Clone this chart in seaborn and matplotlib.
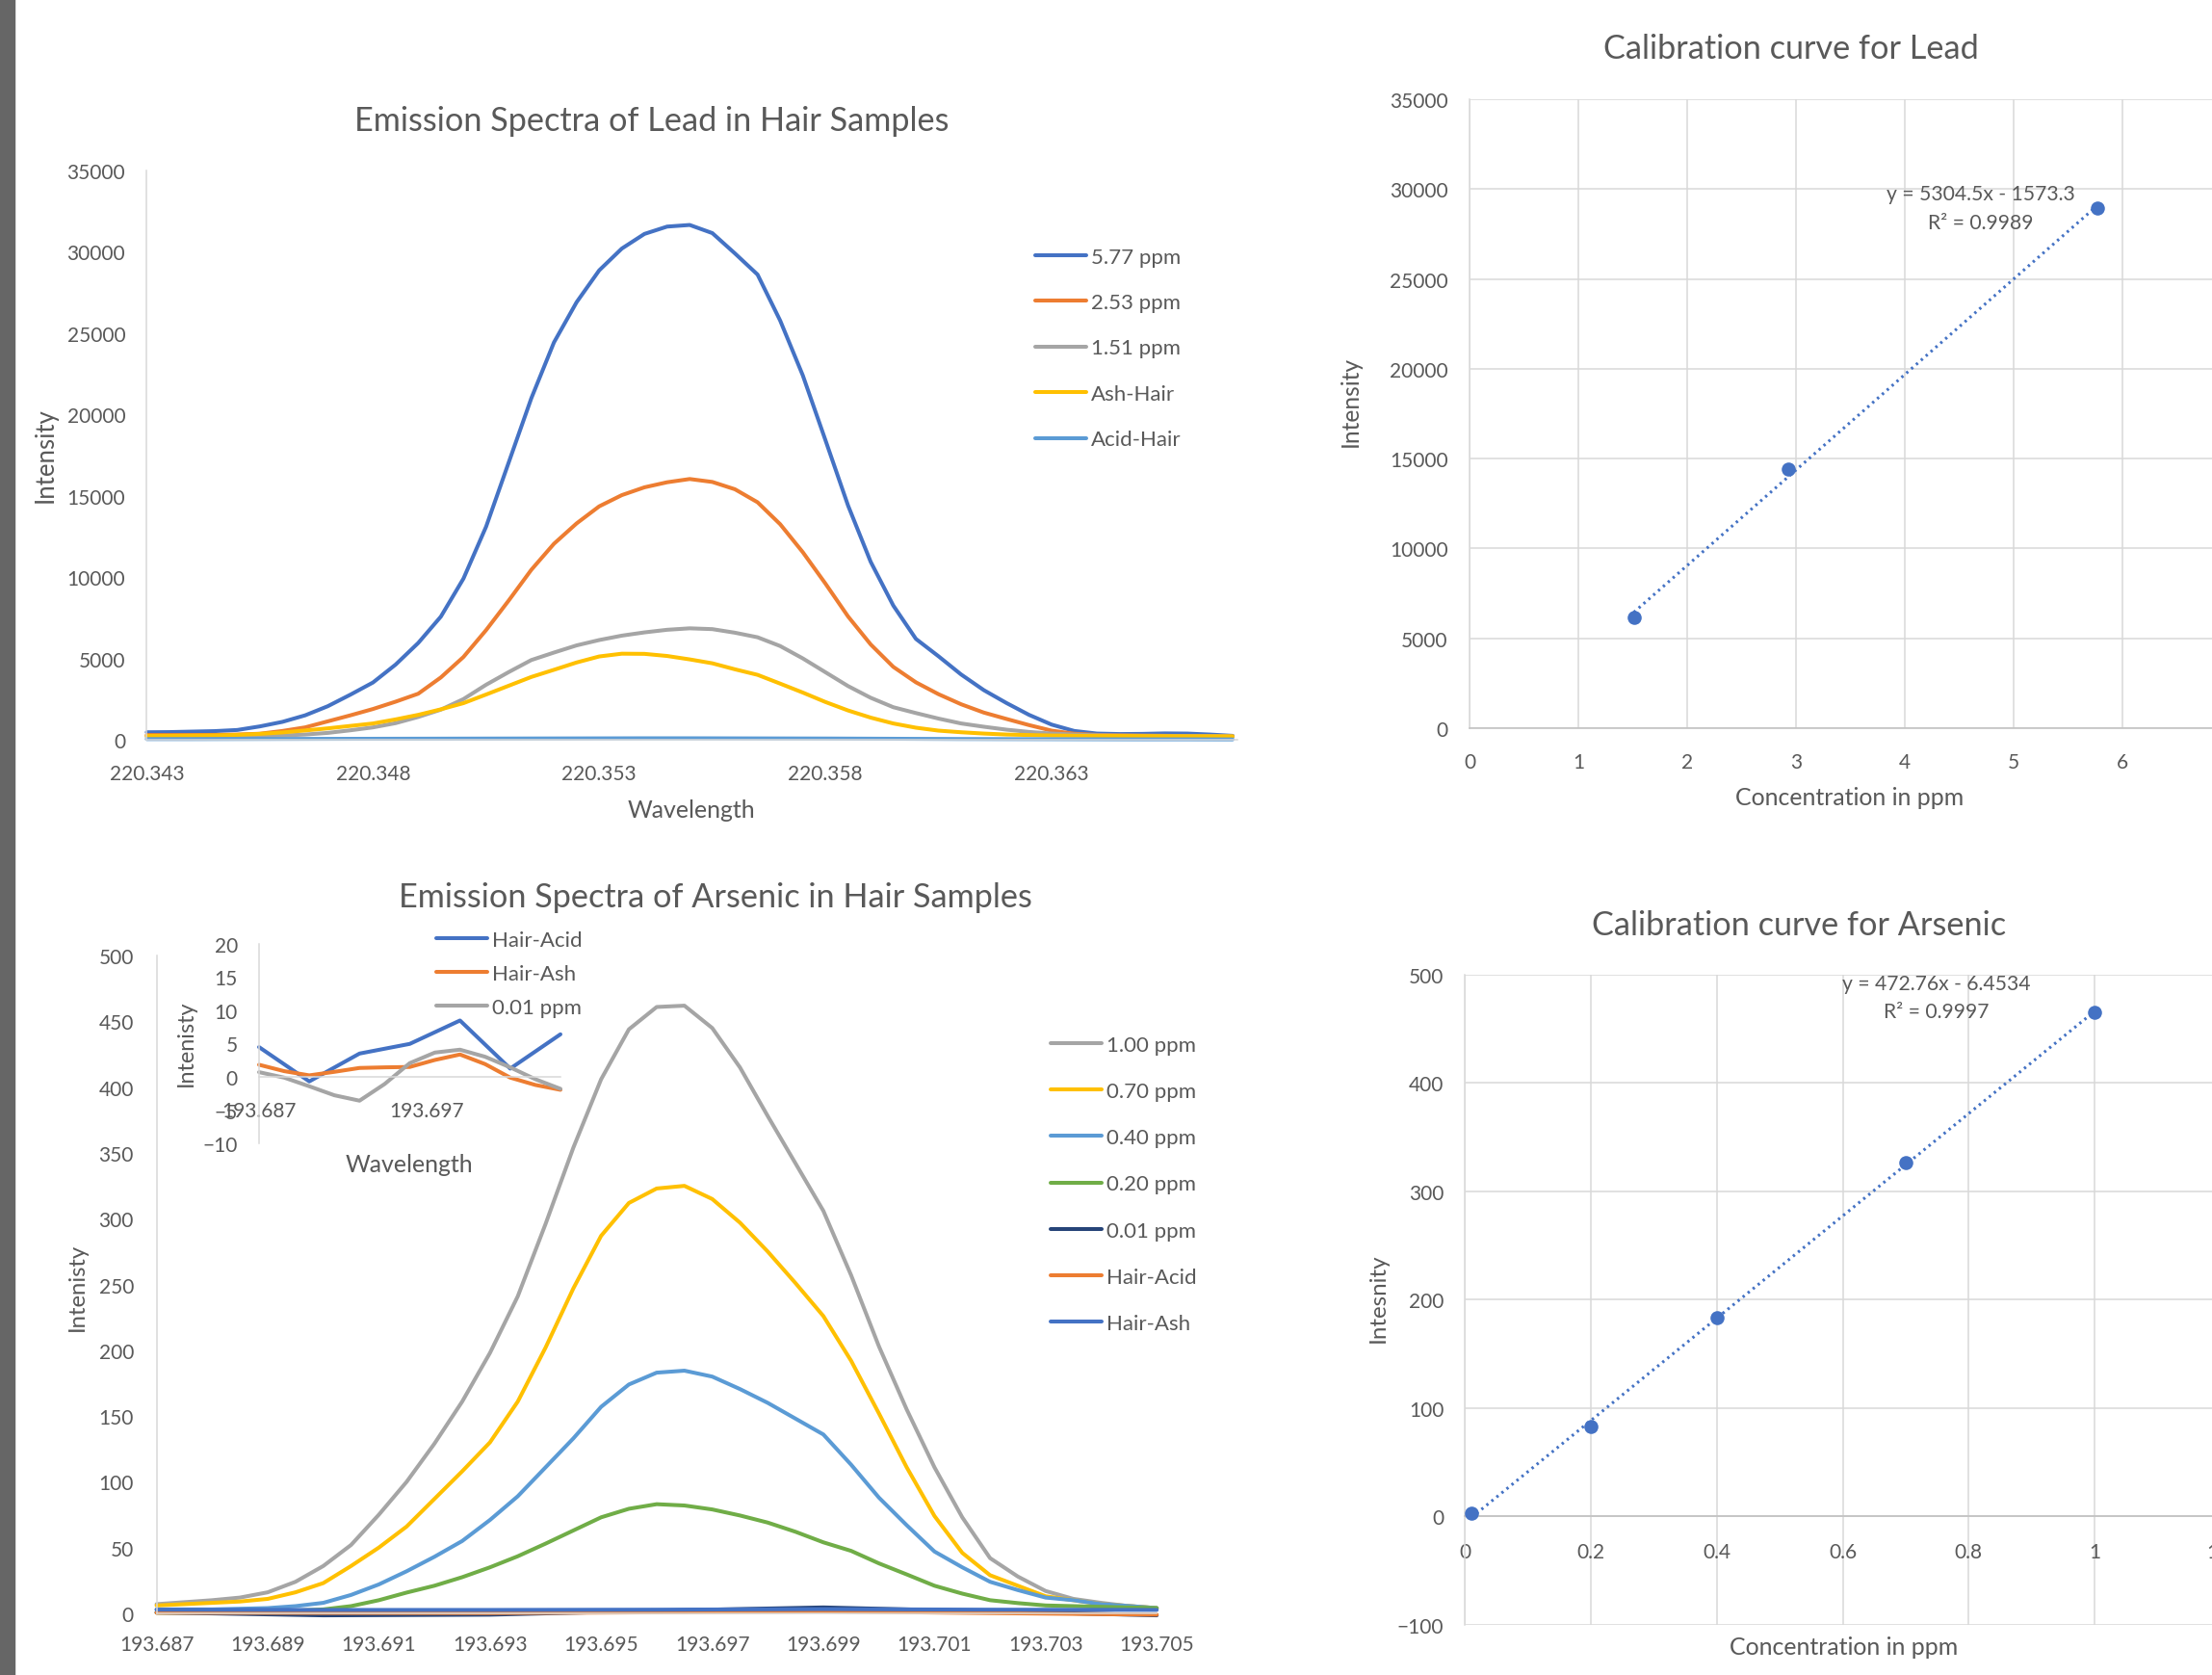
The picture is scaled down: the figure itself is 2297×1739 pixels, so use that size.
import numpy as np
import pandas as pd
import matplotlib
matplotlib.use('Agg')
import matplotlib.pyplot as plt
from matplotlib.patches import Rectangle
import seaborn as sns

# ─── DATA ─────────────────────────────────────────────────
# Lead emission spectra (intensity vs wavelength, nm), read every 0.0005 nm
lead_wavelength = [220.3430, 220.3435, 220.3440, 220.3445, 220.3450, 220.3455, 220.3460,
                   220.3465, 220.3470, 220.3475, 220.3480, 220.3485, 220.3490, 220.3495,
                   220.3500, 220.3505, 220.3510, 220.3515, 220.3520, 220.3525, 220.3530,
                   220.3535, 220.3540, 220.3545, 220.3550, 220.3555, 220.3560, 220.3565,
                   220.3570, 220.3575, 220.3580, 220.3585, 220.3590, 220.3595, 220.3600,
                   220.3605, 220.3610, 220.3615, 220.3620, 220.3625, 220.3630, 220.3635,
                   220.3640, 220.3645, 220.3650, 220.3655, 220.3660, 220.3665, 220.3670]
pb_577 = [460, 470, 500, 530, 600, 820, 1100, 1500, 2060, 2770, 3520, 4620, 5950,
          7570, 9910, 13100, 17050, 21000, 24430, 26900, 28860, 30200, 31100, 31550,
          31650, 31150, 29900, 28600, 25770, 22400, 18420, 14400, 10940, 8250, 6200,
          5130, 4010, 3050, 2260, 1530, 930, 540, 380, 350, 360, 390, 380, 320, 240]
pb_253 = [290, 290, 290, 300, 320, 370, 540, 760, 1130, 1500, 1890, 2340, 2830,
          3830, 5090, 6740, 8560, 10450, 12050, 13300, 14350, 15040, 15520, 15830,
          16030, 15850, 15400, 14600, 13250, 11530, 9600, 7580, 5860, 4480, 3530,
          2800, 2180, 1670, 1280, 900, 560, 370, 300, 270, 250, 240, 230, 220, 210]
pb_151 = [180, 185, 190, 200, 210, 230, 260, 320, 420, 580, 760, 1020, 1400,
          1850, 2500, 3380, 4160, 4900, 5360, 5800, 6130, 6400, 6600, 6760,
          6850, 6800, 6580, 6300, 5760, 5000, 4150, 3300, 2580, 2000, 1640,
          1300, 1000, 800, 620, 480, 380, 320, 280, 260, 250, 240, 230, 225, 220]
pb_ash = [240, 245, 255, 270, 300, 360, 450, 570, 700, 850, 1000, 1250, 1530,
          1870, 2250, 2780, 3320, 3860, 4300, 4750, 5120, 5290, 5280, 5150,
          4940, 4700, 4330, 3990, 3450, 2900, 2320, 1800, 1360, 1000, 740,
          560, 460, 380, 320, 290, 260, 250, 240, 235, 230, 225, 220, 215, 210]
lead_acid_wavelength = [220.343, 220.344, 220.345, 220.346, 220.347, 220.348, 220.349,
                        220.350, 220.351, 220.352, 220.353, 220.354, 220.355, 220.356,
                        220.357, 220.358, 220.359, 220.360, 220.361, 220.362, 220.363,
                        220.364, 220.365, 220.366, 220.367]
pb_acid = [40, 40, 45, 50, 55, 60, 65, 70, 75, 80, 85, 90, 90,
           85, 80, 75, 65, 55, 45, 40, 35, 30, 25, 25, 20]

# Arsenic emission spectra, read every 0.0005 nm
arsenic_wavelength = [193.6870, 193.6875, 193.6880, 193.6885, 193.6890, 193.6895, 193.6900,
                      193.6905, 193.6910, 193.6915, 193.6920, 193.6925, 193.6930, 193.6935,
                      193.6940, 193.6945, 193.6950, 193.6955, 193.6960, 193.6965, 193.6970,
                      193.6975, 193.6980, 193.6985, 193.6990, 193.6995, 193.7000, 193.7005,
                      193.7010, 193.7015, 193.7020, 193.7025, 193.7030, 193.7035, 193.7040,
                      193.7045, 193.7050]
as_100 = [7, 8.5, 10, 12, 16, 24, 36, 52, 75, 100, 129, 161, 198, 241, 296, 354, 406,
          444, 461, 462, 445, 415, 378, 342, 306, 257, 203, 155, 111, 73, 42, 28, 17,
          11, 8, 5.5, 4]
as_070 = [6, 7, 8, 9, 11, 16, 23, 36, 50, 66, 87, 108, 130, 161, 202, 247, 287,
          312, 323, 325, 315, 297, 275, 251, 226, 192, 152, 111, 74, 46, 29, 21, 13,
          10, 7, 5.6, 4]
as_040 = [3, 3, 3, 3.5, 4, 5.5, 8, 14, 22, 32, 43, 55, 71, 89, 111, 133, 157,
          174, 183, 184.5, 180, 170.5, 160, 148, 136, 113, 88, 67, 47, 35, 24, 17.7,
          12, 10, 7, 5.6, 4]
as_020 = [0.5, 0.5, 0.5, 0.7, 1, 2, 3, 5.5, 10, 15.8, 21, 27.5, 35, 43.4, 53, 63,
          73, 79.5, 83, 82, 79, 74.4, 69, 62, 54, 47.5, 38, 29.6, 21, 15, 10, 7.8,
          6, 5.5, 5, 4.5, 4]
arsenic_low_wavelength = [193.687, 193.690, 193.693, 193.696, 193.699, 193.702, 193.705]
as_001 = [0.7, -1.5, -1.0, 2.0, 4.5, 1.5, -1.5]
as_hair_acid = [0.5, 0.3, 0.2, 0.8, 1.5, 0.2, -1.0]
as_hair_ash = [2.8, 2.6, 2.6, 2.8, 3.2, 2.8, 2.6]

# Inset (zoom on the low arsenic signals)
inset_wavelength = [193.687, 193.6885, 193.690, 193.6915, 193.693, 193.6945, 193.696,
                    193.6975, 193.699, 193.7005, 193.702, 193.7035, 193.705]
inset_hair_acid = [4.48, -0.67, 3.51, 4.96, 8.47, 1.25, 6.4]
inset_hair_ash = [1.83, 0.87, 0.24, 0.77, 1.35, 1.44, 1.5, 2.55, 3.37, 1.93, -0.1, -1.2, -1.93]
inset_001 = [0.72, -0.1, -1.4, -2.75, -3.56, -1.06, 2.07, 3.66, 4.09, 3.03, 1.44, -0.34, -1.78]

# Calibration curves
pb_conc = [1.51, 2.93, 5.77]
pb_int = [6160, 14430, 28940]
as_conc = [0.01, 0.2, 0.4, 0.7, 1.0]
as_int = [2.7, 82.8, 183.6, 326.6, 465.7]

lead_ticks = [220.343, 220.348, 220.353, 220.358, 220.363]
arsenic_ticks = [193.687, 193.689, 193.691, 193.693, 193.695, 193.697, 193.699,
                 193.701, 193.703, 193.705]
inset_ticks = [193.687, 193.697]

# ─── STYLE ────────────────────────────────────────────────
sns.set_theme(style='white')
plt.rcParams['font.family'] = ['Lato', 'DejaVu Sans']

TEXT = '#595959'
GRID = '#D9D9D9'
AXIS = '#BFBFBF'
BLUE, ORANGE, GRAY, GOLD = '#4472C4', '#ED7D31', '#A5A5A5', '#FFC000'
LBLUE, GREEN, NAVY = '#5B9BD5', '#70AD47', '#264478'
LW = 2.9
TICK_FS = 15
XLAB_FS = 17.9

W, H = 2297, 1740
fig = plt.figure(figsize=(W / 100, H / 100), dpi=100)
fig.patch.set_facecolor('white')


def rect(x0, y_top, x1, y_bottom):
    return [x0 / W, 1 - y_bottom / H, (x1 - x0) / W, (y_bottom - y_top) / H]


def long_df(series, xs):
    rows = []
    for name, vals in series.items():
        for w, v in zip(xs[name], vals):
            rows.append((w, v, name))
    return pd.DataFrame(rows, columns=['Wavelength', 'Intensity', 'Series'])


def style_spectrum(ax, xticks, yticks):
    ax.set_xticks(xticks)
    ax.set_xticklabels(['%.3f' % t for t in xticks])
    ax.set_yticks(yticks)
    ax.tick_params(length=0, labelsize=TICK_FS, labelcolor=TEXT)
    ax.tick_params(axis='y', pad=16)
    ax.tick_params(axis='x', pad=18)
    for s in ['top', 'right']:
        ax.spines[s].set_visible(False)
    for s in ['left', 'bottom']:
        ax.spines[s].set_color(GRID)
        ax.spines[s].set_linewidth(1.1)


def place_labels(ax, xlabel, ylabel, xpos, ypos, ysize):
    ax.set_xlabel(xlabel, fontsize=XLAB_FS, color=TEXT)
    ax.set_ylabel(ylabel, fontsize=ysize, color=TEXT)
    ax.xaxis.set_label_coords(*xpos)
    ax.yaxis.set_label_coords(*ypos)
    ax.xaxis.label.set_va('center')
    ax.yaxis.label.set_va('center')


def redo_legend(ax, x_px, y_px, spacing):
    old = ax.get_legend()
    handles = old.legend_handles
    labels = [t.get_text() for t in old.get_texts()]
    old.remove()
    for h in handles:
        h.set_linewidth(LW)
    ax.legend(handles, labels, loc='upper left', bbox_to_anchor=(x_px / W, 1 - y_px / H),
              bbox_transform=fig.transFigure, frameon=False, borderpad=0, borderaxespad=0,
              handlelength=2.4, handletextpad=0.22, labelspacing=spacing,
              fontsize=16, labelcolor=TEXT)


# ─── LEAD SPECTRA ─────────────────────────────────────────
lead_series = {'5.77 ppm': pb_577, '2.53 ppm': pb_253, '1.51 ppm': pb_151,
               'Ash-Hair': pb_ash, 'Acid-Hair': pb_acid}
lead_colors = {'5.77 ppm': BLUE, '2.53 ppm': ORANGE, '1.51 ppm': GRAY,
               'Ash-Hair': GOLD, 'Acid-Hair': LBLUE}
lead_x = {k: lead_wavelength for k in lead_series}
lead_x['Acid-Hair'] = lead_acid_wavelength
lead_df = long_df(lead_series, lead_x)

ax1 = fig.add_axes(rect(152.4, 178, 1284.7, 769))
sns.lineplot(data=lead_df, x='Wavelength', y='Intensity', hue='Series',
             hue_order=list(lead_series), palette=lead_colors, estimator=None,
             sort=False, linewidth=LW, ax=ax1, clip_on=False)
ax1.set_xlim(220.343, 220.3671)
ax1.set_ylim(0, 35000)
style_spectrum(ax1, lead_ticks, range(0, 35001, 5000))
place_labels(ax1, 'Wavelength', 'Intensity', (0.4995, -0.123), (-0.093, 0.501), 18.5)
redo_legend(ax1, 1075, 257.5, 1.235)

# ─── ARSENIC SPECTRA ──────────────────────────────────────
as_series = {'1.00 ppm': as_100, '0.70 ppm': as_070, '0.40 ppm': as_040,
             '0.20 ppm': as_020, '0.01 ppm': as_001, 'Hair-Acid': as_hair_acid,
             'Hair-Ash': as_hair_ash}
as_colors = {'1.00 ppm': GRAY, '0.70 ppm': GOLD, '0.40 ppm': LBLUE, '0.20 ppm': GREEN,
             '0.01 ppm': NAVY, 'Hair-Acid': ORANGE, 'Hair-Ash': BLUE}
as_x = {k: arsenic_wavelength for k in ['1.00 ppm', '0.70 ppm', '0.40 ppm', '0.20 ppm']}
as_x.update({k: arsenic_low_wavelength for k in ['0.01 ppm', 'Hair-Acid', 'Hair-Ash']})
as_df = long_df(as_series, as_x)

ax2 = fig.add_axes(rect(162.6, 993.2, 1201.2, 1676))
sns.lineplot(data=as_df, x='Wavelength', y='Intensity', hue='Series',
             hue_order=list(as_series), palette=as_colors, estimator=None,
             sort=False, linewidth=LW, ax=ax2, clip_on=False)
ax2.set_xlim(193.687, 193.705)
ax2.set_ylim(0, 500)
style_spectrum(ax2, arsenic_ticks, range(0, 501, 50))
ax2.tick_params(axis='y', pad=17)
ax2.tick_params(axis='x', pad=16)
place_labels(ax2, 'Wavelength', 'Intenisty', (0.499, -0.111), (-0.0795, 0.498), 17.2)
redo_legend(ax2, 1091, 1076, 1.266)

# inset
inset_series = {'Hair-Acid': inset_hair_acid, 'Hair-Ash': inset_hair_ash,
                '0.01 ppm': inset_001}
inset_colors = {'Hair-Acid': BLUE, 'Hair-Ash': ORANGE, '0.01 ppm': GRAY}
inset_x = {'Hair-Acid': arsenic_low_wavelength, 'Hair-Ash': inset_wavelength,
           '0.01 ppm': inset_wavelength}
inset_df = long_df(inset_series, inset_x)

axi = fig.add_axes(rect(269, 980.7, 582, 1188.3))
axi.set_facecolor('none')
sns.lineplot(data=inset_df, x='Wavelength', y='Intensity', hue='Series',
             hue_order=list(inset_series), palette=inset_colors, estimator=None,
             sort=False, linewidth=LW, ax=axi, clip_on=False)
axi.set_xlim(193.687, 193.705)
axi.set_ylim(-10, 20)
style_spectrum(axi, inset_ticks, range(-10, 21, 5))
axi.spines['bottom'].set_position(('data', 0))
place_labels(axi, 'Wavelength', 'Intenisty', (0.498, -0.1045), (-0.243, 0.507), 16.8)
redo_legend(axi, 453, 967, 0.68)

# ─── CALIBRATION CURVES ───────────────────────────────────
def style_calib(ax, xticks, xlabels, yticks):
    ax.set_xticks(xticks)
    ax.set_xticklabels(xlabels)
    ax.set_yticks(yticks)
    ax.grid(True, color=GRID, linewidth=1.1)
    ax.set_axisbelow(True)
    ax.tick_params(length=0, labelsize=TICK_FS, labelcolor=TEXT)
    ax.tick_params(axis='y', pad=16)
    ax.tick_params(axis='x', pad=18)
    for s in ['top', 'right']:
        ax.spines[s].set_visible(False)
    ax.spines['left'].set_color(GRID)
    ax.spines['bottom'].set_color(AXIS)
    for s in ['left', 'bottom']:
        ax.spines[s].set_linewidth(1.1)


dots = (0, (0.8, 1.4))

ax3 = fig.add_axes(rect(1526, 104, 2317, 757))
sns.regplot(x=pb_conc, y=pb_int, ci=None, truncate=True, ax=ax3, color=BLUE,
            scatter_kws=dict(s=110, linewidths=0, alpha=1, zorder=3),
            line_kws=dict(lw=2.2, ls=dots, zorder=2))
ax3.set_xlim(0, 7)
ax3.set_ylim(0, 35000)
style_calib(ax3, range(0, 8), [str(v) for v in range(0, 8)], range(0, 35001, 5000))
place_labels(ax3, 'Concentration in ppm', 'Intensity', (0.4994, -0.11), (-0.157, 0.521), 17.7)
fig.text(2057 / W, 1 - 202 / H, 'y = 5304.5x - 1573.3', ha='center', va='center',
         fontsize=15.2, color=TEXT)
fig.text(2057 / W, 1 - 232 / H, 'R² = 0.9989', ha='center', va='center',
         fontsize=15.2, color=TEXT)

ax4 = fig.add_axes(rect(1521.4, 1013, 2305.7, 1687.8))
sns.regplot(x=as_conc, y=as_int, ci=None, truncate=True, ax=ax4, color=BLUE,
            scatter_kws=dict(s=110, linewidths=0, alpha=1, zorder=3),
            line_kws=dict(lw=2.2, ls=dots, zorder=2))
ax4.set_xlim(0, 1.2)
ax4.set_ylim(-100, 500)
as_xticks = [0, 0.2, 0.4, 0.6, 0.8, 1.0, 1.2]
style_calib(ax4, as_xticks, ['0', '0.2', '0.4', '0.6', '0.8', '1', '1.2'],
            range(-100, 501, 100))
ax4.tick_params(axis='x', pad=19)
ax4.spines['bottom'].set_position(('data', 0))
place_labels(ax4, 'Concentration in ppm', 'Intesnity', (0.5018, -0.034), (-0.1153, 0.5036), 17.4)
fig.text(2011 / W, 1 - 1022 / H, 'y = 472.76x - 6.4534', ha='center', va='center',
         fontsize=15.2, color=TEXT)
fig.text(2011 / W, 1 - 1051 / H, 'R² = 0.9997', ha='center', va='center',
         fontsize=15.2, color=TEXT)

# ─── TITLES ───────────────────────────────────────────────
titles = [('Emission Spectra of Lead in Hair Samples', 677, 126),
          ('Calibration curve for Lead', 1860, 51),
          ('Emission Spectra of Arsenic in Hair Samples', 743, 932),
          ('Calibration curve for Arsenic', 1868, 961)]
for text, x, y in titles:
    fig.text(x / W, 1 - y / H, text, ha='center', va='center', fontsize=24.7, color=TEXT)

# dark strip at the left edge of the screenshot
fig.add_artist(Rectangle((0, 0), 15 / W, 1, transform=fig.transFigure,
                         color='#666666', zorder=0))

fig.savefig('out.png', dpi=100)
plt.close(fig)
